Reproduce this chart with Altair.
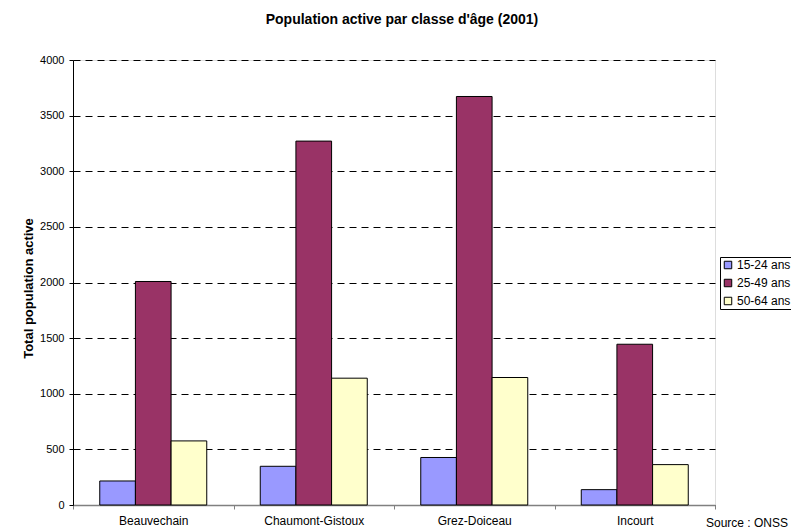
import altair as alt
import pandas as pd

# Active population by commune and age class (2001)
communes = ["Beauvechain", "Chaumont-Gistoux", "Grez-Doiceau", "Incourt"]
ages = ["15-24 ans", "25-49 ans", "50-64 ans"]
pop_15_24 = [216, 348, 427, 138]
pop_25_49 = [2009, 3271, 3672, 1445]
pop_50_64 = [576, 1140, 1146, 363]
age_colors = ["#9999FF", "#993366", "#FFFFCC"]

rows = []
for i, c in enumerate(communes):
    for age, series in zip(ages, [pop_15_24, pop_25_49, pop_50_64]):
        rows.append({"commune": c, "age": age, "valeur": series[i]})
df = pd.DataFrame(rows)

FONT = "Liberation Sans"
W, H = 642, 445

bars = alt.Chart(df).mark_bar(stroke="black", strokeWidth=1).encode(
    x=alt.X(
        "commune:N",
        sort=communes,
        title=None,
        scale=alt.Scale(paddingInner=0, paddingOuter=0),
        axis=alt.Axis(
            tickBand="extent",
            labelAngle=0,
            labelFontSize=12,
            labelColor="black",
            labelFont=FONT,
            labelPadding=6,
            tickSize=4,
            tickColor="#808080",
            domainColor="#808080",
            domainWidth=1.5,
            grid=False,
        ),
    ),
    xOffset=alt.XOffset(
        "age:N", sort=ages, scale=alt.Scale(paddingInner=0, paddingOuter=0.75)
    ),
    y=alt.Y(
        "valeur:Q",
        title="Total population active",
        scale=alt.Scale(domain=[0, 4000], nice=False),
        axis=alt.Axis(
            values=list(range(0, 4001, 500)),
            format="d",
            labelFontSize=11,
            labelColor="black",
            labelFont=FONT,
            labelPadding=5,
            tickSize=4,
            tickColor="black",
            domainColor="black",
            domainWidth=1,
            grid=True,
            gridColor="black",
            gridDash=[7, 5],
            gridWidth=1,
            titleFont=FONT,
            titleFontSize=13,
            titleFontWeight="bold",
            titleColor="black",
            titlePadding=4,
            titleY=228,
        ),
    ),
    color=alt.Color(
        "age:N",
        sort=ages,
        scale=alt.Scale(domain=ages, range=age_colors),
        legend=alt.Legend(
            title=None,
            orient="none",
            legendX=647,
            legendY=197,
            strokeColor="black",
            padding=2,
            symbolType="square",
            symbolSize=56,
            symbolStrokeColor="black",
            symbolStrokeWidth=1,
            symbolOpacity=1,
            labelFont=FONT,
            labelFontSize=12,
            labelColor="black",
            rowPadding=6,
            labelOffset=3,
        ),
    ),
)

source = alt.Chart(pd.DataFrame({"t": ["Source : ONSS"]})).mark_text(
    align="left", baseline="middle", font=FONT, fontSize=12, color="black"
).encode(text="t:N", x=alt.value(633), y=alt.value(463))

chart = (
    alt.layer(bars, source)
    .properties(
        width=W,
        height=H,
        title=alt.Title(
            "Population active par classe d'âge (2001)",
            font=FONT,
            fontSize=14,
            fontWeight="bold",
            color="black",
            anchor="middle",
            dx=8,
            offset=27,
        ),
        autosize=alt.AutoSizeParams(type="none"),
        padding={"left": 73, "top": 60, "right": 76, "bottom": 26},
    )
    .configure_view(stroke=None)
    .configure(background="white")
)

chart.save("out.html", embed_options={"renderer": "svg", "actions": False})
